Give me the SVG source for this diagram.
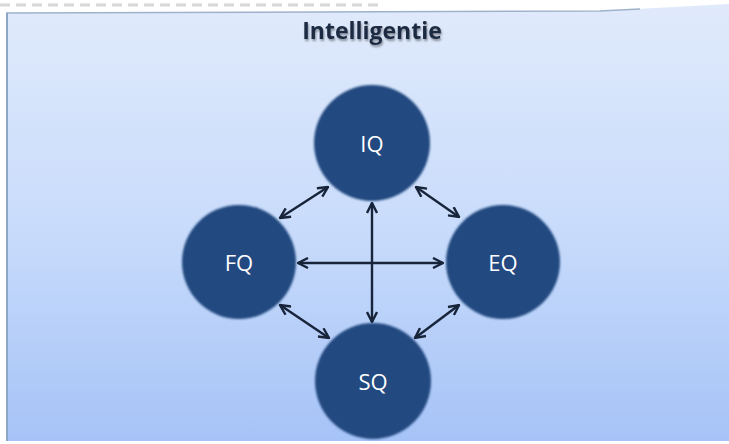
<svg xmlns="http://www.w3.org/2000/svg" width="729" height="444" viewBox="0 0 729 444">
<defs>
<linearGradient id="bg" x1="0" y1="0" x2="0" y2="1">
<stop offset="0" stop-color="#e0eafb"/>
<stop offset="0.5" stop-color="#c9dcfb"/>
<stop offset="1" stop-color="#a6c3f7"/>
</linearGradient>
<filter id="soft" x="-20%" y="-20%" width="140%" height="140%">
<feGaussianBlur stdDeviation="1.2"/>
</filter>
<filter id="tshadow" x="-10%" y="-30%" width="120%" height="160%">
<feGaussianBlur in="SourceAlpha" stdDeviation="1"/>
<feOffset dx="1" dy="1.5" result="b"/>
<feComponentTransfer><feFuncA type="linear" slope="0.4"/></feComponentTransfer>
<feMerge><feMergeNode/><feMergeNode in="SourceGraphic"/></feMerge>
</filter>
<marker id="ah" viewBox="0 0 12 12" refX="11" refY="6" markerWidth="12" markerHeight="12" markerUnits="userSpaceOnUse" orient="auto-start-reverse">
<path d="M1,1 L11,6 L1,11" fill="none" stroke="#17243a" stroke-width="2.4" stroke-linejoin="miter"/>
</marker>
</defs>
<style>
.node circle{fill:#224a80;}
.node text{font-family:"Open Sans","Liberation Sans",sans-serif;font-size:22px;fill:#ffffff;text-anchor:middle;}
.conn line{stroke:#17243a;stroke-width:2.4;marker-start:url(#ah);marker-end:url(#ah);}
.title{font-family:"Open Sans","Liberation Sans",sans-serif;font-weight:bold;font-size:23px;fill:#1b2a42;text-anchor:middle;}
</style>
<rect x="0" y="0" width="729" height="444" fill="#ffffff"/>
<line x1="0" y1="5" x2="380" y2="5" stroke="#d8d8d8" stroke-width="3" stroke-dasharray="10 6"/>
<polygon points="6,13 600,11 729,4 729,441 6,441" fill="url(#bg)"/>
<polyline points="6,13 600,11 640,9" fill="none" stroke="#9fb2cc" stroke-width="1.5"/>
<line x1="7" y1="13" x2="7" y2="441" stroke="#8ea6c6" stroke-width="2"/>
<text class="title" x="372" y="39" filter="url(#tshadow)">Intelligentie</text>
<g class="conn">
<line x1="328" y1="187" x2="280" y2="218"/>
<line x1="416" y1="187" x2="459" y2="217"/>
<line x1="280" y1="305" x2="329" y2="338"/>
<line x1="459" y1="305" x2="415" y2="338"/>
<line x1="298" y1="263" x2="443" y2="263"/>
<line x1="372" y1="203" x2="372" y2="322"/>
</g>
<g id="IQ" class="node"><circle cx="372" cy="143" r="58" filter="url(#soft)"/><text x="372" y="152">IQ</text></g>
<g id="FQ" class="node"><circle cx="239" cy="262" r="57" filter="url(#soft)"/><text x="239" y="271">FQ</text></g>
<g id="EQ" class="node"><circle cx="503" cy="262" r="57" filter="url(#soft)"/><text x="503" y="271">EQ</text></g>
<g id="SQ" class="node"><circle cx="373" cy="381" r="58" filter="url(#soft)"/><text x="373" y="390">SQ</text></g>
</svg>
